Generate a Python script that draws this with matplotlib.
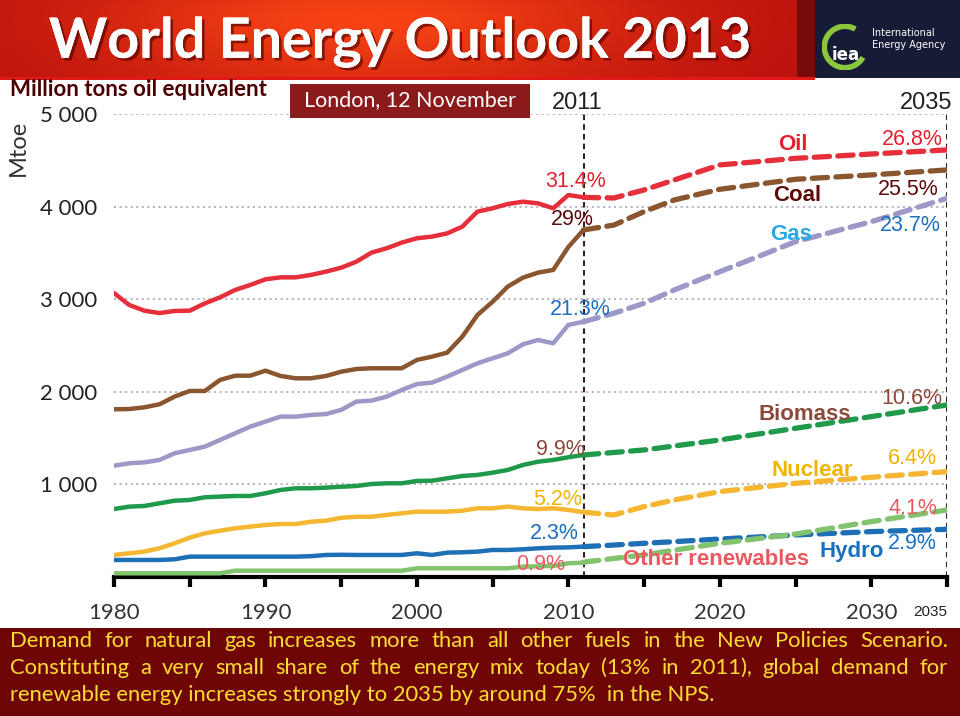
import numpy as np
import matplotlib
matplotlib.use("Agg")
import matplotlib.pyplot as plt
from matplotlib.patches import Rectangle, Arc
import matplotlib.patheffects as pe

plt.rcParams['lines.scale_dashes'] = False

# ---------------- data ----------------
years_hist = list(range(1980, 2012))
oil_hist = [3067, 2938, 2876, 2850, 2873, 2876, 2955, 3020, 3100, 3154, 3215, 3236, 3236, 3262, 3298, 3340,
            3405, 3503, 3550, 3611, 3658, 3676, 3711, 3784, 3946, 3982, 4028, 4053, 4035, 3982, 4125, 4100]
coal_hist = [1811, 1814, 1832, 1865, 1948, 2009, 2009, 2128, 2174, 2174, 2228, 2171, 2146, 2146, 2171, 2217,
             2246, 2254, 2254, 2254, 2344, 2380, 2423, 2596, 2830, 2973, 3136, 3233, 3287, 3316, 3564, 3748]
gas_hist = [1202, 1228, 1238, 1264, 1336, 1372, 1408, 1480, 1552, 1624, 1678, 1732, 1732, 1750, 1760, 1804,
            1894, 1905, 1948, 2020, 2084, 2099, 2164, 2236, 2308, 2362, 2416, 2513, 2560, 2524, 2722, 2757]
biomass_hist = [734, 760, 767, 796, 824, 832, 861, 868, 875, 875, 904, 940, 958, 958, 965, 975,
                983, 1004, 1012, 1012, 1037, 1040, 1066, 1091, 1102, 1127, 1156, 1210, 1245, 1264, 1293, 1318]
nuclear_hist = [238, 256, 274, 310, 364, 425, 472, 500, 526, 544, 562, 572, 572, 597, 608, 640,
                650, 651, 670, 688, 706, 706, 706, 716, 742, 742, 760, 742, 734, 742, 724, 700]
hydro_hist = [184, 184, 184, 184, 191, 220, 220, 220, 220, 220, 220, 220, 220, 225, 238, 240,
              238, 238, 238, 238, 256, 238, 263, 267, 274, 292, 292, 299, 310, 317, 320, 328]
other_hist = [40, 40, 40, 40, 40, 40, 40, 40, 68, 68, 68, 68, 68, 68, 68, 68,
              68, 68, 68, 68, 94, 94, 94, 94, 94, 94, 94, 112, 115, 119, 148, 155]

years_proj = [2011, 2013, 2015, 2017, 2020, 2025, 2030, 2035]
oil_proj = [4100, 4093, 4180, 4288, 4450, 4521, 4568, 4612]
coal_proj = [3748, 3800, 3946, 4072, 4187, 4295, 4342, 4396]
gas_proj = [2757, 2848, 2956, 3100, 3297, 3621, 3837, 4090]
biomass_proj = [1318, 1345, 1372, 1415, 1480, 1606, 1732, 1858]
nuclear_proj = [700, 670, 760, 832, 922, 1012, 1077, 1138]
hydro_proj = [328, 345, 364, 382, 410, 454, 490, 515]
other_proj = [160, 200, 238, 290, 364, 464, 598, 724]

y_ticks = [1000, 2000, 3000, 4000, 5000]
y_ticklabels = ["1 000", "2 000", "3 000", "4 000", "5 000"]
x_major = [1980, 1990, 2000, 2010, 2020, 2030]
x_minor = [1985, 1995, 2005, 2015, 2025, 2035]

series = [
    ("Oil", oil_hist, oil_proj, "#e5303c"),
    ("Coal", coal_hist, coal_proj, "#8a5630"),
    ("Gas", gas_hist, gas_proj, "#9c98c8"),
    ("Biomass", biomass_hist, biomass_proj, "#1f9a4a"),
    ("Nuclear", nuclear_hist, nuclear_proj, "#f5b731"),
    ("Hydro", hydro_hist, hydro_proj, "#1f6fb5"),
    ("Other renewables", other_hist, other_proj, "#82c36e"),
]

# annotations: (text, year, value, color, bold)
C_OIL, C_COAL, C_BLUE, C_GASL = "#e5202c", "#5c0a0a", "#1a6fc0", "#29a9e0"
C_BIO, C_NUC, C_OTH = "#8a4a3a", "#f0b400", "#e85a60"
labels = [
    ("31.4%", 2010.45, 4266, C_OIL, False),
    ("29%", 2010.25, 3856, C_COAL, False),
    ("21.3%", 2010.8, 2884, C_BLUE, False),
    ("9.9%", 2009.5, 1382, C_BIO, False),
    ("5.2%", 2009.3, 842, C_NUC, False),
    ("2.3%", 2009.05, 475, C_BLUE, False),
    ("0.9%", 2008.2, 130, C_OTH, False),
    ("Oil", 2024.85, 4676, C_OIL, True),
    ("Coal", 2025.1, 4115, C_COAL, True),
    ("Gas", 2024.7, 3694, C_GASL, True),
    ("26.8%", 2032.7, 4720, C_OIL, False),
    ("25.5%", 2032.45, 4190, C_COAL, False),
    ("23.7%", 2032.55, 3791, C_BLUE, False),
    ("10.6%", 2032.7, 1933, C_BIO, False),
    ("Biomass", 2025.6, 1760, C_BIO, True),
    ("6.4%", 2032.7, 1285, C_NUC, False),
    ("Nuclear", 2026.1, 1145, C_NUC, True),
    ("4.1%", 2032.75, 745, C_OTH, False),
    ("2.9%", 2032.7, 367, C_BLUE, False),
    ("Hydro", 2028.7, 270, C_BLUE, True),
    ("Other renewables", 2019.75, 184, C_OTH, True),
]

caption_lines = [
    "Demand for natural gas increases more than all other fuels in the New Policies Scenario.",
    "Constituting a very small share of the energy mix today (13% in 2011), global demand for",
    "renewable energy increases strongly to 2035 by around 75%  in the NPS.",
]

# ---------------- figure ----------------
W, H = 960, 716
fig = plt.figure(figsize=(W / 100, H / 100), dpi=100)
fig.patch.set_facecolor("white")

def fx(px):
    return px / W

def fy(py):
    return 1 - py / H

# header banner with gradient
hdr = fig.add_axes([0, fy(78), fx(815), 78 / H])
xx = np.linspace(0, 1, 400)
yy = np.linspace(0, 1, 60)
X, Y = np.meshgrid(xx, yy)
glow = np.exp(-((X - 0.45) / 0.35) ** 2) * (0.6 + 0.4 * np.exp(-((Y - 0.25) / 0.5) ** 2))
img = np.zeros((60, 400, 3))
img[..., 0] = 0.72 + 0.25 * glow
img[..., 1] = 0.06 + 0.20 * glow
img[..., 2] = 0.05 + 0.03 * glow
hdr.imshow(img, aspect="auto", extent=[0, 1, 0, 1], origin="upper")
hdr.set_xlim(0, 1)
hdr.set_ylim(0, 1)
hdr.axis("off")
fig.patches.append(Rectangle((fx(797), fy(78)), fx(18), 78 / H, transform=fig.transFigure,
                             facecolor="#7a0a0a", edgecolor="none", zorder=2))
fig.patches.append(Rectangle((0, fy(80)), fx(815), 3 / H, transform=fig.transFigure,
                             facecolor="#e01818", edgecolor="none", zorder=2))
# IEA box
fig.patches.append(Rectangle((fx(815), fy(78)), fx(145), 78 / H, transform=fig.transFigure,
                             facecolor="#161b36", edgecolor="none", zorder=2))

# title with shadow
fig.text(fx(400), fy(42), "World Energy Outlook 2013", fontsize=40, fontweight="bold",
         family="Lato", color="white", ha="center", va="center", zorder=4,
         path_effects=[pe.withSimplePatchShadow(offset=(2, -2), shadow_rgbFace="#4a0000", alpha=0.6),
                       pe.Normal()])

# IEA logo
logo = fig.add_axes([fx(822), fy(70), fx(46), 46 / H], zorder=10)
logo.set_xlim(-1, 1)
logo.set_ylim(-1, 1)
logo.axis("off")
logo.add_patch(Arc((0, 0), 1.8, 1.8, theta1=60, theta2=330, color="#8cc63f", lw=4))
logo.text(0.05, -0.35, "iea", color="white", fontsize=12, fontweight="bold", family="DejaVu Sans",
          ha="center", va="center")
fig.text(fx(872), fy(33), "International", color="white", fontsize=7, family="Liberation Sans Narrow",
         ha="left", va="center", zorder=5)
fig.text(fx(872), fy(45), "Energy Agency", color="white", fontsize=7, family="Liberation Sans Narrow",
         ha="left", va="center", zorder=5)

# subtitle row
fig.text(fx(10), fy(89), "Million tons oil equivalent", fontsize=16, fontweight="bold", family="Lato",
         color="#4a0000", ha="left", va="center")
fig.patches.append(Rectangle((fx(290), fy(118)), fx(240), 34 / H, transform=fig.transFigure,
                             facecolor="#8b1a1a", edgecolor="none", zorder=2))
fig.text(fx(410), fy(100), "London, 12 November", fontsize=15.5, family="Lato", color="white",
         ha="center", va="center", zorder=3)
fig.text(fx(18), fy(148), "Mtoe", fontsize=17, family="Lato", color="#333333", rotation=90,
         ha="center", va="center")

# ---------------- main axes ----------------
ax = fig.add_axes([fx(114), fy(577), fx(947 - 114), (577 - 114) / H])
ax.set_xlim(1980, 2035)
ax.set_ylim(0, 5000)
for s in ["top", "right", "left"]:
    ax.spines[s].set_visible(False)
ax.spines["bottom"].set_linewidth(3)
ax.spines["bottom"].set_color("black")
ax.patch.set_alpha(0)

for v in y_ticks:
    ax.axhline(v, color="#a8a8b8", lw=1.2, ls=(0, (1.5, 2.5)), zorder=1)

ax.set_yticks(y_ticks)
ax.set_yticklabels(y_ticklabels, fontsize=16, family="Lato", color="#222222")
ax.tick_params(axis="y", length=0, pad=12)
ax.set_xticks(x_major)
ax.set_xticklabels([str(v) for v in x_major], fontsize=16, family="Lato", color="#333333")
ax.set_xticks(x_minor, minor=True)
ax.tick_params(axis="x", which="both", direction="out", length=7, width=3, color="black", pad=12)

for name, hist, proj, col in series:
    ax.plot(years_hist, hist, color=col, lw=3.2, solid_capstyle="round", zorder=3)
    ax.plot(years_proj, proj, color=col, lw=3.8, dashes=(11, 6), dash_capstyle="round", zorder=3)

for xv in (2011, 2035):
    ax.axvline(xv, color="#3a2020", lw=1.5, ls=(0, (4, 3)), zorder=2)

for txt, xv, yv, col, bold in labels:
    ax.text(xv, yv, txt, color=col, fontsize=16 if bold else 15.5,
            fontweight="bold" if bold else "normal", family="Liberation Sans",
            ha="center", va="center", zorder=5)

fig.text(fx(577), fy(103), "2011", fontsize=17, family="Liberation Sans", color="#222222",
         ha="center", va="center")
fig.text(fx(926), fy(103), "2035", fontsize=17, family="Liberation Sans", color="#222222",
         ha="center", va="center")
fig.text(fx(930), fy(612), "2035", fontsize=11, family="Liberation Sans", color="#222222",
         ha="center", va="center")

# ---------------- caption ----------------
fig.patches.append(Rectangle((0, 0), 1, (716 - 628) / H, transform=fig.transFigure,
                             facecolor="#6e0606", edgecolor="none", zorder=2))
cap_y = [641, 668, 695]
fig.canvas.draw()
renderer = fig.canvas.get_renderer()
for i, line in enumerate(caption_lines):
    if i < 2:
        words = line.split(" ")
        objs = [fig.text(0, fy(cap_y[i]), w, fontsize=15.8, family="Lato", color="#ffdd33",
                         ha="left", va="center", zorder=3) for w in words]
        widths = [o.get_window_extent(renderer).width for o in objs]
        x0, x1 = 10, 948
        gap = (x1 - x0 - sum(widths)) / (len(words) - 1)
        x = x0
        for o, w in zip(objs, widths):
            o.set_x(fx(x))
            x += w + gap
    else:
        fig.text(fx(10), fy(cap_y[i]), line, fontsize=15.8, family="Lato", color="#ffdd33",
                 ha="left", va="center", zorder=3)

fig.savefig("out.png", dpi=100)
